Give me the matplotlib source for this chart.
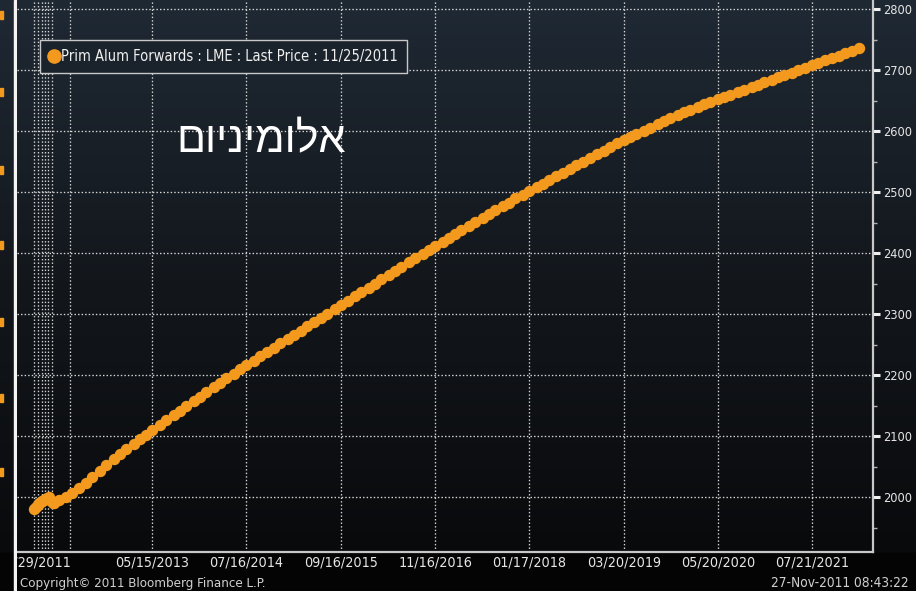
import matplotlib
matplotlib.use("Agg")
import matplotlib.pyplot as plt
import matplotlib.dates as mdates
from matplotlib import font_manager
from matplotlib.font_manager import FontProperties
from matplotlib.lines import Line2D
from matplotlib.patches import Rectangle
import numpy as np
import pandas as pd

W, H, DPI = 916, 591, 100

ORANGE = "#f39a1e"
GRID = "#d6d6d6"
TEXT = "#e6e6e6"


def narrow_font(size):
    # Bloomberg uses a narrow face; DejaVu Sans Condensed if present, else Liberation Sans
    for f in font_manager.fontManager.ttflist:
        if f.name == "DejaVu Sans" and str(f.stretch) == "condensed" \
                and f.style == "normal" and f.weight in (400, "normal"):
            return FontProperties(fname=f.fname, size=size)
    return FontProperties(family="Liberation Sans", size=size)


# ---- data ----
legend_label = "Prim Alum Forwards : LME : Last Price : 11/25/2011"
title_he = "אלומיניום"

# cash + weekly prompts up to 3M
early_dates = pd.to_datetime([
    "2011-11-29", "2011-12-07", "2011-12-14", "2011-12-21", "2011-12-28",
    "2012-01-04", "2012-01-11", "2012-01-18", "2012-01-25", "2012-02-01",
    "2012-02-08", "2012-02-15", "2012-02-22", "2012-02-27",
])
early_vals = [1981, 1984, 1987, 1990, 1992, 1994, 1995, 1997, 1999, 2001,
              1996, 1993, 1991, 1990]

# monthly prompts (third Wednesdays), Mar 2012 .. Feb 2022
monthly_dates = pd.date_range("2012-03-01", periods=120, freq="WOM-3WED")
monthly_vals = [
    1995, 2001, 2007, 2015, 2024, 2033, 2043, 2052, 2062, 2071,
    2079, 2087, 2095, 2102, 2110, 2118, 2126, 2134, 2142, 2150,
    2158, 2165, 2173, 2181, 2188, 2195, 2202, 2210, 2217, 2224,
    2231, 2238, 2245, 2252, 2259, 2266, 2273, 2280, 2287, 2294,
    2301, 2308, 2315, 2322, 2329, 2336, 2343, 2350, 2357, 2364,
    2371, 2378, 2385, 2392, 2399, 2406, 2412, 2419, 2425, 2432,
    2438, 2445, 2451, 2458, 2464, 2471, 2477, 2483, 2490, 2496,
    2502, 2508, 2514, 2520, 2526, 2532, 2538, 2544, 2550, 2556,
    2562, 2568, 2574, 2580, 2585, 2591, 2596, 2601, 2606, 2611,
    2616, 2621, 2626, 2631, 2635, 2640, 2644, 2648, 2652, 2656,
    2660, 2664, 2668, 2672, 2676, 2680, 2684, 2688, 2692, 2696,
    2700, 2704, 2708, 2712, 2716, 2720, 2724, 2728, 2732, 2736,
]

x_tick_dates = pd.to_datetime([
    "2011-11-29", "2013-05-15", "2014-07-16", "2015-09-16", "2016-11-16",
    "2018-01-17", "2019-03-20", "2020-05-20", "2021-07-21",
])
x_extra_grid = pd.to_datetime([
    "2011-12-15", "2012-01-02", "2012-01-16", "2012-01-29", "2012-02-16",
    "2012-05-08",
])
y_ticks = [2000, 2100, 2200, 2300, 2400, 2500, 2600, 2700, 2800]
x_range = pd.to_datetime(["2011-09-11", "2022-04-22"])
y_range = (1911, 2815)

# ---- figure ----
fig = plt.figure(figsize=(W / DPI, H / DPI), dpi=DPI)


def gradient_img():
    rows = np.arange(H)
    stops_y = [0, 280, 551, 553, H]
    cols = np.array([[31, 41, 52], [19, 23, 28], [9, 10, 12], [4, 4, 5], [4, 4, 5]]) / 255
    img = np.stack([np.interp(rows, stops_y, cols[:, k]) for k in range(3)], axis=-1)
    return img[:, None, :]


bg = fig.add_axes([0, 0, 1, 1], zorder=-5)
bg.imshow(gradient_img(), aspect="auto", extent=(0, 1, 0, 1))
bg.set_axis_off()

ax = fig.add_axes([17 / W, 1 - 551.5 / H, (873 - 17) / W, 551.5 / H])
ax.patch.set_alpha(0)

ax.plot(early_dates, early_vals, "o", ms=7.2, color=ORANGE, mec=ORANGE, zorder=3)
ax.plot(monthly_dates, monthly_vals, "o", ms=7.2, color=ORANGE, mec=ORANGE, zorder=3)

ax.set_xlim(x_range[0], x_range[1])
ax.set_ylim(*y_range)

ax.yaxis.tick_right()
ax.set_yticks(y_ticks)
ax.set_yticks(np.arange(1950, 2800, 100), minor=True)
ax.tick_params(axis="y", which="major", direction="out", length=5, width=2.2,
               color="#f0f0f0", pad=2.5, labelcolor=TEXT)
ax.tick_params(axis="y", which="minor", direction="out", length=3, width=1,
               color="#b0b0b0")
for lab in ax.get_yticklabels():
    lab.set_fontproperties(narrow_font(9.2))

ax.set_xticks(x_tick_dates)
ax.set_xticks(x_extra_grid, minor=True)
ax.xaxis.set_major_formatter(mdates.DateFormatter("%m/%d/%Y"))
ax.tick_params(axis="x", which="both", length=0, pad=3, labelcolor=TEXT)
for lab in ax.get_xticklabels():
    lab.set_fontproperties(narrow_font(10.3))

grid_kw = dict(color=GRID, lw=0.95, linestyle=(0, (1.1, 1.6)))
ax.yaxis.grid(True, which="major", **grid_kw)
ax.xaxis.grid(True, which="both", **grid_kw)
ax.set_axisbelow(True)

for side in ("top", "left"):
    ax.spines[side].set_visible(False)
for side in ("right", "bottom"):
    ax.spines[side].set_color("#c8c8c8")
    ax.spines[side].set_linewidth(1.6)

handle = Line2D([], [], marker="o", ls="none", color=ORANGE, ms=9.5)
leg = ax.legend([handle], [legend_label], loc="upper left",
                bbox_to_anchor=(40 / W, 1 - 40 / H), bbox_transform=fig.transFigure,
                frameon=True, fancybox=False, handlelength=0.7, handletextpad=0.15,
                borderpad=0.6, borderaxespad=0, prop=narrow_font(10.5))
leg.get_frame().set_facecolor("#1a232c")
leg.get_frame().set_edgecolor("#c8c8c8")
leg.get_frame().set_linewidth(1.0)
leg.get_frame().set_alpha(1)
for t in leg.get_texts():
    t.set_color("#f0f0f0")

# matplotlib has no bidi support, so feed the glyphs in visual order
fig.text(261 / W, 1 - 141 / H, title_he[::-1], ha="center", va="center",
         color="white", fontsize=31, family="Liberation Sans")

fig.text(20 / W, 1 - 583 / H, "Copyright\u00a9 2011 Bloomberg Finance L.P.",
         ha="left", va="center", color="#d0d0d0", fontproperties=narrow_font(9.5))
fig.text(909 / W, 1 - 583 / H, "27-Nov-2011 08:43:22",
         ha="right", va="center", color="#d0d0d0", fontproperties=narrow_font(9.8))

# left strip: cut edge of a neighbouring chart (white border + orange label stubs)
strip = fig.add_axes([0, 0, 17 / W, 1], zorder=10)
strip.imshow(gradient_img(), aspect="auto", extent=(0, 17, 0, H))
strip.add_patch(Rectangle((13.5, 0), 3.5, H, color="#f4f4f4"))
for yy in [15, 92, 170, 245, 322, 398, 472]:
    strip.add_patch(Rectangle((0, H - yy - 4), 2.5, 8, color=ORANGE))
strip.set_xlim(0, 17)
strip.set_ylim(0, H)
strip.set_axis_off()

fig.savefig("out.png", dpi=DPI, facecolor="black")
